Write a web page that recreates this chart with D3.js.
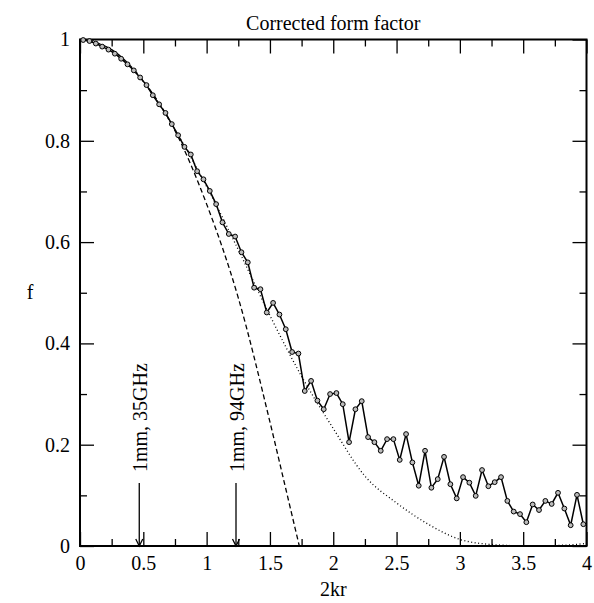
<!DOCTYPE html>
<html>
<head>
	<script src="https://cdn.jsdelivr.net/npm/d3@7"></script>
	<style>
		html, body {
			padding: 0;
			margin: 0;
			background: white;
		}
		text {
			font-family: "Liberation Serif", "Times New Roman", serif;
		}
	</style>
</head>
<body>
	<script>
		// measured form factor, one point every 0.05 in 2kr
		var kr = [0.025, 0.075, 0.125, 0.175, 0.225, 0.275, 0.325, 0.375, 0.425, 0.475,
			0.525, 0.575, 0.625, 0.675, 0.725, 0.775, 0.825, 0.875, 0.925, 0.975,
			1.025, 1.075, 1.125, 1.175, 1.225, 1.275, 1.325, 1.375, 1.425, 1.475,
			1.525, 1.575, 1.625, 1.675, 1.725, 1.775, 1.825, 1.875, 1.925, 1.975,
			2.025, 2.075, 2.125, 2.175, 2.225, 2.275, 2.325, 2.375, 2.425, 2.475,
			2.525, 2.575, 2.625, 2.675, 2.725, 2.775, 2.825, 2.875, 2.925, 2.975,
			3.025, 3.075, 3.125, 3.175, 3.225, 3.275, 3.325, 3.375, 3.425, 3.475,
			3.525, 3.575, 3.625, 3.675, 3.725, 3.775, 3.825, 3.875, 3.925, 3.975];
		var fMeasured = [0.999, 0.997, 0.992, 0.986, 0.980, 0.972, 0.962, 0.951, 0.939, 0.925,
			0.910, 0.890, 0.872, 0.855, 0.833, 0.811, 0.788, 0.773, 0.740, 0.724,
			0.701, 0.675, 0.639, 0.616, 0.611, 0.580, 0.560, 0.510, 0.507, 0.461,
			0.480, 0.457, 0.428, 0.383, 0.380, 0.306, 0.326, 0.287, 0.270, 0.300,
			0.302, 0.280, 0.205, 0.270, 0.286, 0.215, 0.205, 0.188, 0.211, 0.211,
			0.170, 0.221, 0.165, 0.119, 0.188, 0.115, 0.132, 0.176, 0.122, 0.094,
			0.136, 0.125, 0.099, 0.150, 0.118, 0.126, 0.136, 0.089, 0.068, 0.063,
			0.047, 0.082, 0.071, 0.089, 0.083, 0.105, 0.074, 0.041, 0.101, 0.043];

		// dotted reference curve
		var dotX = [0, 0.25, 0.5, 0.75, 1.0, 1.25, 1.5, 1.75, 2.0, 2.25, 2.5, 2.75, 3.0, 3.25, 3.5, 3.75, 4.0];
		var dotY = [1.0, 0.978, 0.917, 0.822, 0.71, 0.585, 0.455, 0.335, 0.232, 0.138, 0.085, 0.043, 0.013, 0.003, 0.0005, 0.001, 0.005];

		// dashed reference curve
		var dashX = [0, 0.25, 0.5, 0.75, 1.0, 1.25, 1.5, 1.625, 1.732];
		var dashY = [1.0, 0.98, 0.918, 0.82, 0.675, 0.49, 0.245, 0.113, 0.0];

		var xTicks = [0, 0.5, 1, 1.5, 2, 2.5, 3, 3.5, 4];
		var xTickLabels = ["0", "0.5", "1", "1.5", "2", "2.5", "3", "3.5", "4"];
		var xMinor = [0.25, 0.75, 1.25, 1.75, 2.25, 2.75, 3.25, 3.75];
		var yTicks = [0, 0.2, 0.4, 0.6, 0.8, 1];
		var yTickLabels = ["0", "0.2", "0.4", "0.6", "0.8", "1"];
		var yMinor = [0.1, 0.3, 0.5, 0.7, 0.9];

		var arrowX = [0.468, 1.232];
		var arrowLabels = ["1mm, 35GHz", "1mm, 94GHz"];

		var width = 594, height = 603;
		var margin = {top: 39.5, right: 7.5, bottom: 57, left: 80};
		var w = width - margin.left - margin.right;
		var h = height - margin.top - margin.bottom;

		var svg = d3.select('body').append('svg')
			.attr('width', width)
			.attr('height', height);

		var g = svg.append('g')
			.attr('transform', 'translate(' + margin.left + ',' + margin.top + ')');

		var x = d3.scaleLinear().domain([0, 4]).range([0, w]);
		var y = d3.scaleLinear().domain([0, 1]).range([h, 0]);

		//////// AXES ////////
		function styleAxis(sel) {
			sel.select('.domain').remove();
			sel.selectAll('line').attr('stroke', '#000').attr('stroke-width', 1.3);
			sel.selectAll('text').attr('fill', '#000').style('font-size', '20px')
				.style('font-family', '"Liberation Serif", "Times New Roman", serif');
		}

		g.append('g').attr('transform', 'translate(0,' + h + ')')
			.call(d3.axisBottom(x).tickValues(xTicks).tickSize(-14).tickPadding(10)
				.tickFormat(function(d, i) { return xTickLabels[i]; }))
			.call(styleAxis);
		g.append('g').attr('transform', 'translate(0,' + h + ')')
			.call(d3.axisBottom(x).tickValues(xMinor).tickSize(-7).tickFormat(''))
			.call(styleAxis);
		g.append('g')
			.call(d3.axisTop(x).tickValues(xTicks).tickSize(-14).tickFormat(''))
			.call(styleAxis);
		g.append('g')
			.call(d3.axisTop(x).tickValues(xMinor).tickSize(-7).tickFormat(''))
			.call(styleAxis);

		g.append('g')
			.call(d3.axisLeft(y).tickValues(yTicks).tickSize(-14).tickPadding(10)
				.tickFormat(function(d, i) { return yTickLabels[i]; }))
			.call(styleAxis);
		g.append('g')
			.call(d3.axisLeft(y).tickValues(yMinor).tickSize(-7).tickFormat(''))
			.call(styleAxis);
		g.append('g').attr('transform', 'translate(' + w + ',0)')
			.call(d3.axisRight(y).tickValues(yTicks).tickSize(-14).tickFormat(''))
			.call(styleAxis);
		g.append('g').attr('transform', 'translate(' + w + ',0)')
			.call(d3.axisRight(y).tickValues(yMinor).tickSize(-7).tickFormat(''))
			.call(styleAxis);

		// frame
		g.append('rect')
			.attr('width', w)
			.attr('height', h)
			.attr('fill', 'none')
			.attr('stroke', '#000')
			.attr('stroke-width', 2);

		//////// CURVES ////////
		var smooth = d3.line()
			.x(function(d) { return x(d[0]); })
			.y(function(d) { return y(d[1]); })
			.curve(d3.curveMonotoneX);

		g.append('path')
			.datum(dashX.map(function(v, i) { return [v, dashY[i]]; }))
			.attr('d', smooth)
			.attr('fill', 'none')
			.attr('stroke', '#000')
			.attr('stroke-width', 1.3)
			.attr('stroke-dasharray', '5,3');

		g.append('path')
			.datum(dotX.map(function(v, i) { return [v, dotY[i]]; }))
			.attr('d', smooth)
			.attr('fill', 'none')
			.attr('stroke', '#000')
			.attr('stroke-width', 1.3)
			.attr('stroke-dasharray', '1,2.5');

		var pts = kr.map(function(v, i) { return [v, fMeasured[i]]; });

		g.append('path')
			.datum(pts)
			.attr('d', d3.line()
				.x(function(d) { return x(d[0]); })
				.y(function(d) { return y(d[1]); }))
			.attr('fill', 'none')
			.attr('stroke', '#000')
			.attr('stroke-width', 1.5);

		g.selectAll('circle.pt')
			.data(pts)
			.enter().append('circle')
			.attr('class', 'pt')
			.attr('cx', function(d) { return x(d[0]); })
			.attr('cy', function(d) { return y(d[1]); })
			.attr('r', 2.4)
			.attr('fill', '#bbb')
			.attr('stroke', '#000')
			.attr('stroke-width', 1);

		//////// ARROWS ////////
		arrowX.forEach(function(v, i) {
			var ax = x(v);
			g.append('line')
				.attr('x1', ax).attr('x2', ax)
				.attr('y1', h - 63).attr('y2', h)
				.attr('stroke', '#000')
				.attr('stroke-width', 1.3);
			g.append('path')
				.attr('d', 'M' + (ax - 3.5) + ',' + (h - 7) + 'L' + ax + ',' + h + 'L' + (ax + 3.5) + ',' + (h - 7))
				.attr('fill', 'none')
				.attr('stroke', '#000')
				.attr('stroke-width', 1.3);
			g.append('text')
				.attr('transform', 'translate(' + (ax + 8) + ',' + (h - 74) + ') rotate(-90)')
				.style('font-size', '20px')
				.text(arrowLabels[i]);
		});

		//////// LABELS ////////
		svg.append('text')
			.attr('x', margin.left + w / 2)
			.attr('y', 30)
			.attr('text-anchor', 'middle')
			.style('font-size', '20px')
			.text('Corrected form factor');

		svg.append('text')
			.attr('x', margin.left + w / 2)
			.attr('y', 596)
			.attr('text-anchor', 'middle')
			.style('font-size', '20px')
			.text('2kr');

		svg.append('text')
			.attr('x', 30)
			.attr('y', margin.top + h / 2 + 6)
			.attr('text-anchor', 'middle')
			.style('font-size', '20px')
			.text('f');
	</script>
</body>
</html>
